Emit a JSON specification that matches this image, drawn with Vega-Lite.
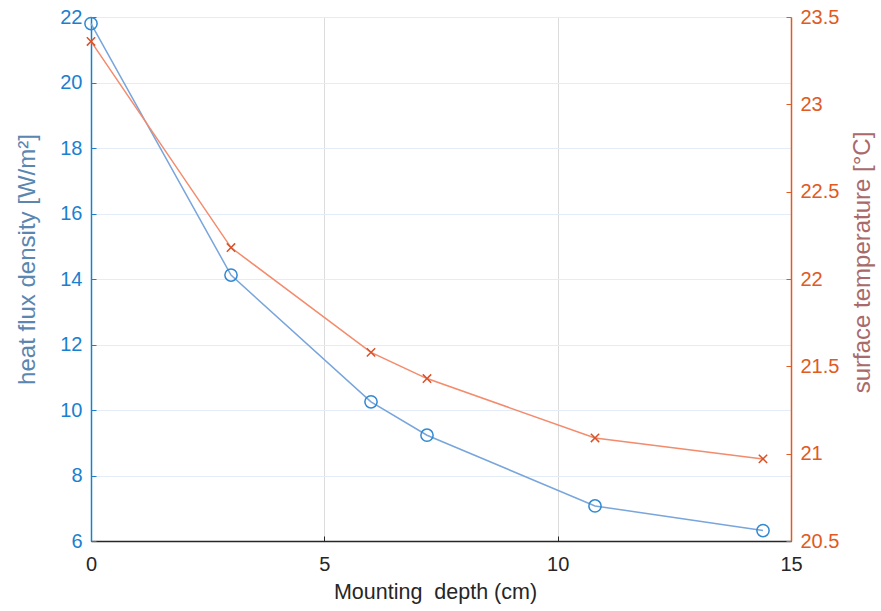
{
  "$schema": "https://vega.github.io/schema/vega-lite/v6.json",
  "width": 700,
  "height": 524,
  "autosize": "none",
  "padding": {"left": 91, "top": 17, "right": 90, "bottom": 70},
  "background": "white",
  "config": {
    "view": {"stroke": null},
    "font": "Liberation Sans",
    "axis": {"labelFont": "Liberation Sans", "titleFont": "Liberation Sans", "titleFontWeight": "normal", "labelFontSize": 20, "titleFontSize": 20, "labelFlush": false, "labelOverlap": false}
  },
  "data": {
    "values": [
      {"depth": 0, "flux": 21.8, "temp": 23.36},
      {"depth": 3, "flux": 14.12, "temp": 22.18},
      {"depth": 6, "flux": 10.25, "temp": 21.58},
      {"depth": 7.2, "flux": 9.23, "temp": 21.43},
      {"depth": 10.8, "flux": 7.07, "temp": 21.09},
      {"depth": 14.4, "flux": 6.32, "temp": 20.97}
    ]
  },
  "encoding": {
    "x": {
      "field": "depth", "type": "quantitative",
      "scale": {"domain": [0, 15], "nice": false, "zero": false},
      "axis": {
        "title": "Mounting\u00a0 depth (cm)", "values": [0, 5, 10, 15],
        "grid": true, "gridColor": "#dcdcdc", "gridWidth": 1,
        "domainColor": "#262626", "domainWidth": 1.5,
        "tickColor": "#262626", "tickSize": -5, "labelPadding": 18,
        "labelColor": "#262626", "titleColor": "#262626", "titlePadding": 7,
        "titleFontSize": 21.5, "titleX": 344
      }
    }
  },
  "layer": [
    {
      "layer": [
        {
          "mark": {"type": "line", "color": "#78a5db", "strokeWidth": 1.5},
          "encoding": {
            "y": {
              "field": "flux", "type": "quantitative",
              "scale": {"domain": [6, 22], "nice": false, "zero": false},
              "axis": {
                "orient": "left", "title": "heat flux density [W/m²]",
                "values": [6, 8, 10, 12, 14, 16, 18, 20, 22],
                "grid": true, "gridColor": "#e4edf7", "gridWidth": 1,
                "domainColor": "#1a7fd0", "domainWidth": 1.5,
                "tickColor": "#1a7fd0", "tickSize": -5, "labelPadding": 14,
                "labelColor": "#1a7fd0", "titleColor": "#5a86b0", "titlePadding": 20,
                "titleFontSize": 24, "titleY": 242
              }
            }
          }
        },
        {
          "mark": {"type": "point", "shape": "circle", "filled": false, "color": "#3189d2", "size": 150, "strokeWidth": 1.5, "opacity": 1},
          "encoding": {"y": {"field": "flux", "type": "quantitative"}}
        }
      ]
    },
    {
      "layer": [
        {
          "mark": {"type": "line", "color": "#f38b6c", "strokeWidth": 1.5},
          "encoding": {
            "y": {
              "field": "temp", "type": "quantitative",
              "scale": {"domain": [20.5, 23.5], "nice": false, "zero": false},
              "axis": {
                "orient": "right", "title": "surface temperature [°C]",
                "values": [20.5, 21, 21.5, 22, 22.5, 23, 23.5], "format": "~g",
                "grid": false, "titleAngle": 270, "titleBaseline": "top",
                "domainColor": "#e05a22", "domainWidth": 1.5,
                "tickColor": "#e05a22", "tickSize": -5, "labelPadding": 14,
                "labelColor": "#e05a22", "titleColor": "#a86a6a", "titlePadding": 12,
                "titleFontSize": 24, "titleY": 245
              }
            }
          }
        },
        {
          "mark": {"type": "point", "shape": "M-1,-1L1,1M-1,1L1,-1", "filled": false, "color": "#d9532a", "size": 70, "strokeWidth": 1.5, "opacity": 1},
          "encoding": {"y": {"field": "temp", "type": "quantitative"}}
        }
      ]
    }
  ],
  "resolve": {"scale": {"y": "independent"}}
}
